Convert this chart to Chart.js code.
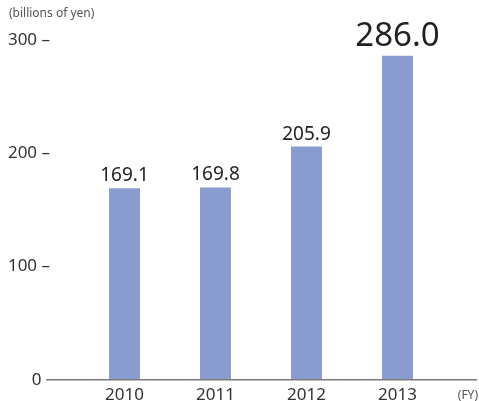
<!DOCTYPE html>
<html>
<head>
<meta charset="utf-8">
<script src="https://cdn.jsdelivr.net/npm/chart.js@4"></script>
<style>
  html, body { margin: 0; padding: 0; background: #fff; overflow: hidden; }
  #wrap { width: 479px; height: 419px; position: relative; }
</style>
</head>
<body>
<div id="wrap"><canvas id="salesChart"></canvas></div>
<script>
const years = ["2010", "2011", "2012", "2013"];
const sales = [169.1, 169.8, 205.9, 286.0];
const yTicks = [0, 100, 200, 300];

const FONT = "'Noto Sans', 'Open Sans', sans-serif";

// axis baseline, unit captions and value labels
const decorations = {
  id: "decorations",
  afterDatasetsDraw(chart) {
    const c = chart.ctx;
    const y = chart.scales.y;
    const base = y.getPixelForValue(0);

    c.save();
    c.strokeStyle = "#7a7a7a";
    c.lineWidth = 1.5;
    c.beginPath();
    c.moveTo(46, base);
    c.lineTo(477, base);
    c.stroke();

    c.fillStyle = "#555";
    c.font = "12px " + FONT;
    c.textAlign = "left";
    c.textBaseline = "middle";
    c.fillText("(billions of yen)", 9, 14);

    c.textAlign = "right";
    c.fillText("(FY)", 478, base + 16);

    const bars = chart.getDatasetMeta(0).data;
    bars.forEach(function (bar, i) {
      const last = i === bars.length - 1;
      c.fillStyle = "#222";
      c.font = (last ? "33px " : "19px ") + FONT;
      c.textAlign = "center";
      c.textBaseline = "alphabetic";
      c.fillText(sales[i].toFixed(1), bar.x, bar.y - (last ? 10 : 7));
    });
    c.restore();
  }
};

const ctx = document.getElementById("salesChart").getContext("2d");

new Chart(ctx, {
  type: "bar",
  data: {
    labels: years,
    datasets: [{
      data: sales,
      backgroundColor: "#8a9ccf",
      categoryPercentage: 1,
      barPercentage: 0.34
    }]
  },
  options: {
    responsive: true,
    maintainAspectRatio: false,
    animation: false,
    layout: { padding: { top: 40, right: 36, left: 0, bottom: 0 } },
    plugins: { legend: { display: false }, tooltip: { enabled: false } },
    scales: {
      x: {
        grid: { display: false, drawTicks: false },
        border: { display: false },
        ticks: { color: "#333", font: { family: FONT, size: 17 }, padding: 5 },
        afterFit(scale) { scale.height = 22; }
      },
      y: {
        min: 0,
        max: 300,
        afterBuildTicks(scale) { scale.ticks = yTicks.map(v => ({ value: v })); },
        grid: { display: false, drawTicks: false },
        border: { display: false },
        ticks: {
          color: "#333",
          font: { family: FONT, size: 17 },
          padding: 29,
          callback: v => v === 0 ? "0\u2002" : v + " \u2013"
        },
        afterFit(scale) { scale.width = 79; }
      }
    }
  },
  plugins: [decorations]
});
</script>
</body>
</html>
